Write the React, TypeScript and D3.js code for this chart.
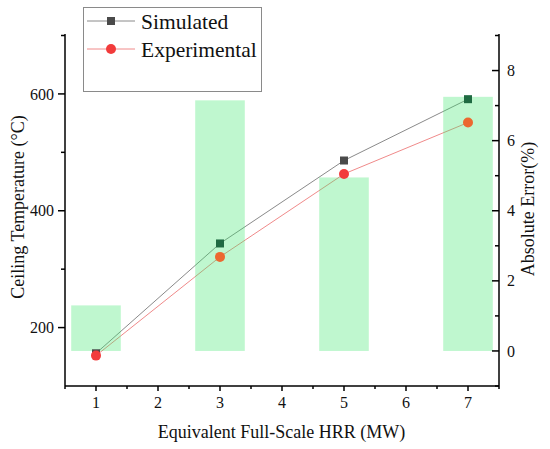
import React from 'react';
import * as d3 from 'd3';

// values
const hrr = [1, 3, 5, 7];
const simulated = [156, 344, 486, 591];
const experimental = [152, 321, 463, 551];
const absError = [1.3, 7.15, 4.95, 7.25];

const xTicks = [1, 2, 3, 4, 5, 6, 7];
const leftTicks = [200, 400, 600];
const rightTicks = [0, 2, 4, 6, 8];

const W = 550;
const H = 449;
const left = 65;
const right = 499;
const top = 35.5;
const bottom = 386;
const serif = { fontFamily: '"Liberation Serif", "Times New Roman", serif' };

const App = () => {
  const x = d3.scaleLinear().domain([0.5, 7.5]).range([left, right]);
  const yT = d3.scaleLinear().domain([100, 700]).range([bottom, top]);
  const yE = d3.scaleLinear().domain([-1, 9]).range([bottom, top]);

  const line = d3.line<number>().x((d, i) => x(hrr[i])).y((d) => yT(d));
  const barW = x(1.8) - x(1);

  const xMinor = d3.range(0.5, 7.6, 1);
  const leftMinor = [300, 500, 700];
  const rightMinor = [-1, 1, 3, 5, 7, 9];

  // markers sitting inside a bar take on a tinted colour, as in the source
  const inBar = (i: number, v: number) => yT(v) >= yE(absError[i]) && yT(v) <= yE(0);

  return (
    <svg width={W} height={H} style={{ position: 'absolute', left: 0, top: 0 }}>
      <rect width={W} height={H} fill="#fff" />

      {/* series lines */}
      <path d={line(simulated) || ''} fill="none" stroke="#8a8a8a" strokeWidth={1} />
      <path d={line(experimental) || ''} fill="none" stroke="#f08a8a" strokeWidth={1} />

      {/* absolute error bars, translucent over the lines */}
      {absError.map((v, i) => (
        <rect
          key={'b' + i}
          x={x(hrr[i]) - barW / 2}
          y={yE(v)}
          width={barW}
          height={yE(0) - yE(v)}
          fill="rgb(60,232,110)"
          fillOpacity={0.33}
        />
      ))}

      {simulated.map((v, i) => (
        <rect key={'s' + i} x={x(hrr[i]) - 4} y={yT(v) - 4} width={8} height={8}
          fill={inBar(i, v) ? '#1f6a42' : '#4a4a4a'} />
      ))}
      {experimental.map((v, i) => (
        <circle key={'e' + i} cx={x(hrr[i])} cy={yT(v)} r={5}
          fill={inBar(i, v) ? '#ec6830' : '#f23b3b'} />
      ))}

      {/* axes */}
      <g stroke="#000" strokeWidth={1.5} fill="none">
        <line x1={left} x2={left} y1={34} y2={bottom} />
        <line x1={right} x2={right} y1={34} y2={bottom} />
        <line x1={left} x2={right} y1={bottom} y2={bottom} />
        {xTicks.map((t) => (
          <line key={'xt' + t} x1={x(t)} x2={x(t)} y1={bottom} y2={bottom + 5} />
        ))}
        {xMinor.map((t) => (
          <line key={'xm' + t} x1={x(t)} x2={x(t)} y1={bottom} y2={bottom + 3} />
        ))}
        {leftTicks.map((t) => (
          <line key={'lt' + t} x1={left - 7} x2={left} y1={yT(t)} y2={yT(t)} />
        ))}
        {leftMinor.map((t) => (
          <line key={'lm' + t} x1={left - 4} x2={left} y1={yT(t)} y2={yT(t)} />
        ))}
        {rightTicks.map((t) => (
          <line key={'rt' + t} x1={right - 7} x2={right} y1={yE(t)} y2={yE(t)} />
        ))}
        {rightMinor.map((t) => (
          <line key={'rm' + t} x1={right - 4} x2={right} y1={yE(t)} y2={yE(t)} />
        ))}
      </g>

      {xTicks.map((t) => (
        <text key={'xl' + t} x={x(t)} y={bottom + 22} fontSize={16} fill="#111" textAnchor="middle" style={serif}>{t}</text>
      ))}
      {leftTicks.map((t) => (
        <text key={'ll' + t} x={left - 11} y={yT(t)} dy="0.35em" fontSize={16} fill="#111" textAnchor="end" style={serif}>{t}</text>
      ))}
      {rightTicks.map((t) => (
        <text key={'rl' + t} x={right + 8} y={yE(t)} dy="0.35em" fontSize={16} fill="#111" textAnchor="start" style={serif}>{t}</text>
      ))}

      <text x={(left + right) / 2 - 0.5} y={438} fontSize={18} fill="#111" textAnchor="middle" style={serif}>Equivalent Full-Scale HRR (MW)</text>
      <text transform="translate(24,207) rotate(-90)" fontSize={18} fill="#111" textAnchor="middle" style={serif}>Ceiling Temperature (°C)</text>
      <text transform="translate(534,209) rotate(-90)" fontSize={18} fill="#111" textAnchor="middle" style={serif}>Absolute Error(%)</text>

      {/* legend */}
      <rect x={83.5} y={7.5} width={178} height={84} fill="#fff" stroke="#8a8a8a" strokeWidth={1} />
      <line x1={87} x2={135} y1={21} y2={21} stroke="#8a8a8a" strokeWidth={1} />
      <rect x={107} y={17} width={8} height={8} fill="#4a4a4a" />
      <line x1={87} x2={135} y1={49} y2={49} stroke="#f08a8a" strokeWidth={1} />
      <circle cx={111} cy={49} r={5} fill="#f23b3b" />
      <text x={141} y={21} dy="0.35em" fontSize={21.5} fill="#111" style={serif}>Simulated</text>
      <text x={141} y={49} dy="0.35em" fontSize={21.5} fill="#111" style={serif}>Experimental</text>
    </svg>
  );
};

export default App;
